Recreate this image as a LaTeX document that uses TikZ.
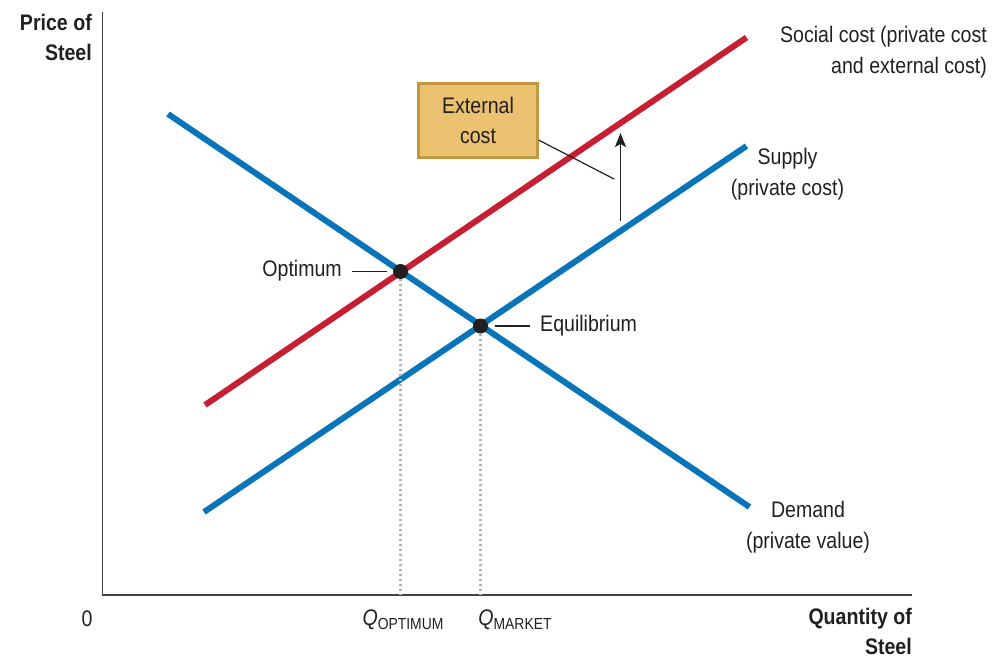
\documentclass[tikz,border=0pt]{standalone}
\usepackage{fontspec}
\setmainfont{Liberation Sans}[FakeStretch=0.87]
\usetikzlibrary{arrows.meta}
\definecolor{redc}{RGB}{200,30,50}
\definecolor{bluec}{RGB}{8,116,186}
\definecolor{boxfill}{RGB}{234,194,112}
\definecolor{boxdraw}{RGB}{196,152,66}
\definecolor{txt}{RGB}{35,31,32}
\begin{document}
\begin{tikzpicture}[x=1pt,y=-1pt,
  curve/.style={line width=6pt},
  axis/.style={line width=1.5pt,draw=txt!85},
  lbl/.style={font=\fontsize{22.5}{31}\selectfont,text=txt,inner sep=0pt},
  blbl/.style={font=\fontsize{22.5}{29.5}\selectfont\bfseries,text=txt,inner sep=0pt},
  dotc/.style={circle,fill=txt,inner sep=0pt,minimum size=15pt},
  guide/.style={line width=1.2pt,txt},
  dotline/.style={line width=2.2pt,gray!60,dash pattern=on 2pt off 3pt}]
\useasboundingbox (0,0) rectangle (1008,657);
% axes
\coordinate (ytop) at (102.5,12);
\coordinate (orig) at (102.5,595);
\coordinate (xend) at (912,595);
\draw[axis] (ytop) -- (orig) -- (xend);
% curves
\coordinate (s0) at (205,405); \coordinate (s1) at (746.5,37.5);
\coordinate (p0) at (204,512); \coordinate (p1) at (746.5,146);
\coordinate (d0) at (168,114); \coordinate (d1) at (749.5,507);
\draw[curve,redc] (s0) -- (s1);
\draw[curve,bluec] (p0) -- (p1);
\draw[curve,bluec] (d0) -- (d1);
% dots
\node[dotc] (opt) at (400.5,271.5) {};
\node[dotc] (eq) at (480.5,326) {};
\coordinate (optb) at (400.5,595);
\coordinate (eqb) at (480.5,595);
\draw[dotline] (opt) -- (optb);
\draw[dotline] (eq) -- (eqb);
% labels near dots
\node[lbl,anchor=east] (optl) at (342,271) {Optimum};
\coordinate (optla) at (352,271.5); \coordinate (optlb) at (387,271.5);
\draw[guide] (optla) -- (optlb);
\node[lbl,anchor=west] (eql) at (540,326) {Equilibrium};
\coordinate (eqla) at (495,326); \coordinate (eqlb) at (530,326);
\draw[guide] (eqla) -- (eqlb);
% external cost box
\node[draw=boxdraw,fill=boxfill,line width=2.2pt,minimum width=119pt,minimum height=74pt,
  align=center,font=\fontsize{22.5}{30}\selectfont,text=txt,inner sep=0pt] (ext) at (478,120.5) {External\\cost};
\coordinate (aup0) at (620.5,221);
\coordinate (aup1) at (620.5,133);
\draw[line width=1.5pt,txt,-{Stealth[length=14pt,width=11pt,inset=3pt]}] (aup0) -- (aup1);
\coordinate (extl) at (614,179);
\draw[guide] (ext.east |- 0,140) -- (extl);
% curve labels
\node[lbl,align=right,anchor=north east] (socl) at (987,26) {Social cost (private cost\\and external cost)};
\node[lbl,align=center] (supl) at (787.5,174.5) {Supply\\(private cost)};
\node[lbl,align=center] (deml) at (808,527) {Demand\\(private value)};
% axis labels
\node[blbl,align=right,anchor=north east] (yl) at (92,14) {Price of\\Steel};
\node[blbl,align=right,anchor=north east] (xl) at (912,608) {Quantity of\\Steel};
\node[lbl] (zero) at (87,619) {0};
\node[lbl] (qopt) at (403,620) {\itshape Q\upshape\raisebox{-0.35ex}{\fontsize{16}{17}\selectfont OPTIMUM}};
\node[lbl] (qmkt) at (515,620) {\itshape Q\upshape\raisebox{-0.35ex}{\fontsize{16}{17}\selectfont MARKET}};
\end{tikzpicture}
\end{document}
